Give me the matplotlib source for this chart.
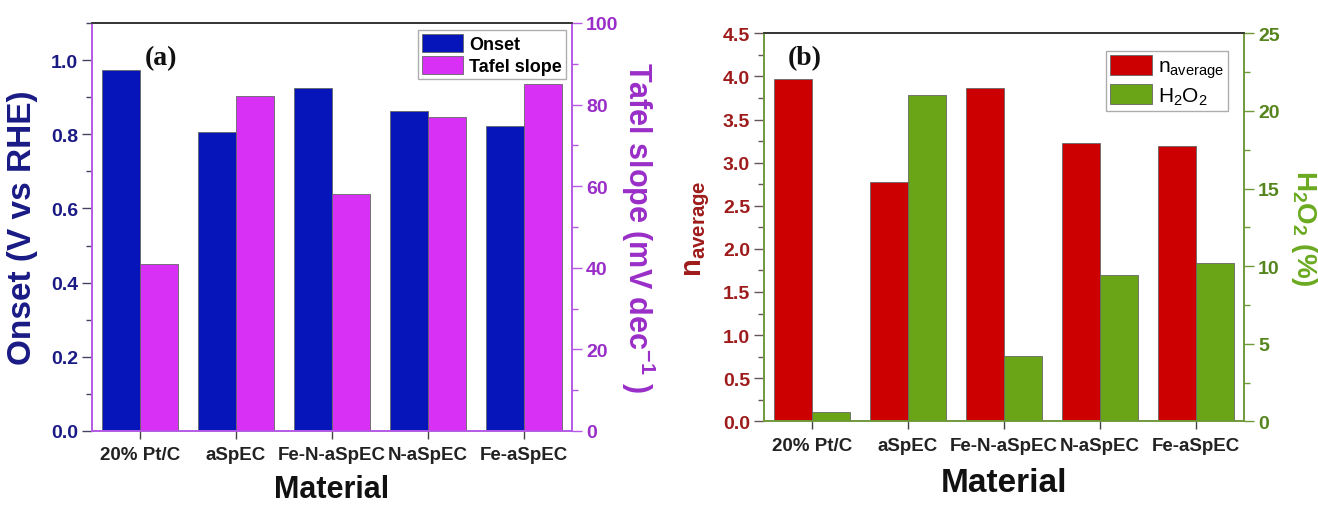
import numpy as np
import matplotlib
matplotlib.use("Agg")
import matplotlib.pyplot as plt
from matplotlib.ticker import AutoMinorLocator, MultipleLocator

# ── data ─────────────────────────────────────────────────────────────────────
materials = ["20% Pt/C", "aSpEC", "Fe-N-aSpEC", "N-aSpEC", "Fe-aSpEC"]
onset = [0.973, 0.805, 0.926, 0.862, 0.822]          # V vs RHE
tafel = [41.0, 82.0, 58.0, 77.0, 85.0]               # mV dec-1
n_avg = [3.97, 2.77, 3.87, 3.23, 3.19]
h2o2 = [0.6, 21.0, 4.2, 9.4, 10.2]                   # %

# ── palette ───────────────────────────────────────────────────────────────────
BLUE = "#0515BA"
MAGENTA = "#D930F5"
RED = "#CC0000"
GREEN = "#69A516"
NAVY = "#1A1A85"
PURPLE = "#9A2EC8"
PURPLE_SP = "#B45AE6"
DRED = "#9E1B1B"
OLIVE = "#55851C"
GREEN_SP = "#6E9A3A"
TOP = "#333333"
EDGE = "#666666"

plt.rcParams["font.family"] = ["Liberation Sans", "DejaVu Sans"]
plt.rcParams["font.weight"] = "bold"
plt.rcParams["mathtext.default"] = "regular"

x = np.arange(len(materials))
W = 0.4

fig = plt.figure(figsize=(13.18, 5.06), dpi=100, facecolor="white")
ax_a = fig.add_axes([92 / 1318, 1 - 432 / 506, 480 / 1318, 408 / 506])
ax_b = fig.add_axes([764 / 1318, 1 - 422.3 / 506, 480 / 1318, 388 / 506])


def style_pair(ax, ax2, lcol, lspine, ltick, rcol, rspine, bspine):
    ax.set_xlim(-0.5, len(materials) - 0.5)
    ax.set_xticks(x)
    ax.set_xticklabels(materials, fontsize=13.5, fontweight="bold", color="#222222")
    ax.tick_params(axis="x", direction="out", length=6, width=1, color="#444444", pad=5)
    ax.tick_params(axis="y", which="major", direction="out", length=7, width=1,
                   color=ltick, labelcolor=lcol, labelsize=14, pad=3)
    ax.tick_params(axis="y", which="minor", direction="out", length=4, width=1, color=ltick)
    ax2.tick_params(axis="y", which="major", direction="out", length=7, width=1,
                    color=rspine, labelcolor=rcol, labelsize=14, pad=3)
    ax2.tick_params(axis="y", which="minor", direction="out", length=4, width=1, color=rspine)
    ax.yaxis.set_minor_locator(AutoMinorLocator(2))
    ax2.yaxis.set_minor_locator(AutoMinorLocator(2))
    for a in (ax, ax2):
        a.spines["left"].set_color(lspine)
        a.spines["bottom"].set_color(bspine)
        a.spines["right"].set_color(rspine)
        a.spines["top"].set_color(TOP)
        for s in a.spines.values():
            s.set_linewidth(1.2)
    for lab in ax.get_yticklabels() + ax2.get_yticklabels():
        lab.set_fontweight("bold")


# ── panel (a) ────────────────────────────────────────────────────────────────
ax_a2 = ax_a.twinx()
b1 = ax_a.bar(x - W / 2, onset, W, color=BLUE, edgecolor=EDGE, linewidth=0.6)
b2 = ax_a2.bar(x + W / 2, tafel, W, color=MAGENTA, edgecolor=EDGE, linewidth=0.6)
ax_a.set_ylim(0, 1.1)
ax_a.yaxis.set_major_locator(MultipleLocator(0.2))
ax_a2.set_ylim(0, 100)
ax_a2.yaxis.set_major_locator(MultipleLocator(20))
style_pair(ax_a, ax_a2, NAVY, PURPLE_SP, "#444466", PURPLE, PURPLE_SP, PURPLE_SP)
ax_a.set_ylabel("Onset (V vs RHE)", fontsize=24, fontweight="bold", color=NAVY, labelpad=9)
ax_a2.set_ylabel(r"Tafel slope (mV dec$^{\mathregular{-1}}$ )", fontsize=22, fontweight="bold",
                 color=PURPLE, rotation=270, labelpad=28)
ax_a.set_xlabel("Material", fontsize=22, fontweight="bold", color="#111111", labelpad=8)
ax_a.text(0.11, 0.945, "(a)", transform=ax_a.transAxes, fontsize=20, fontweight="bold",
          family="Liberation Serif", va="top", ha="left", color="#111111")
leg = ax_a2.legend([b1, b2], ["Onset", "Tafel slope"], loc="upper right",
                   bbox_to_anchor=(0.987, 0.983), borderaxespad=0,
                   prop={"weight": "bold", "size": 13}, frameon=True, fancybox=False,
                   edgecolor="#999999", handlelength=2.3, handleheight=1.2,
                   labelspacing=0.15, borderpad=0.2, handletextpad=0.35)
leg.get_frame().set_linewidth(1.0)

# ── panel (b) ────────────────────────────────────────────────────────────────
ax_b2 = ax_b.twinx()
c1 = ax_b.bar(x - W / 2, n_avg, W, color=RED, edgecolor=EDGE, linewidth=0.6)
c2 = ax_b2.bar(x + W / 2, h2o2, W, color=GREEN, edgecolor=EDGE, linewidth=0.6)
ax_b.set_ylim(0, 4.5)
ax_b.yaxis.set_major_locator(MultipleLocator(0.5))
ax_b2.set_ylim(0, 25)
ax_b2.yaxis.set_major_locator(MultipleLocator(5))
style_pair(ax_b, ax_b2, DRED, GREEN_SP, "#665555", OLIVE, GREEN_SP, GREEN_SP)
ax_b.set_ylabel(r"n$_{\mathregular{average}}$", fontsize=21, fontweight="bold", color=DRED, labelpad=8)
ax_b2.set_ylabel(r"H$_{\mathregular{2}}$O$_{\mathregular{2}}$ (%)", fontsize=20, fontweight="bold",
                 color="#6AAA20", rotation=270, labelpad=28)
ax_b.set_xlabel("Material", fontsize=24, fontweight="bold", color="#111111", labelpad=10)
ax_b.text(0.05, 0.97, "(b)", transform=ax_b.transAxes, fontsize=20, fontweight="bold",
          family="Liberation Serif", va="top", ha="left", color="#111111")
leg = ax_b2.legend([c1, c2], [r"n$_{\mathregular{average}}$", r"H$_{\mathregular{2}}$O$_{\mathregular{2}}$"],
                   loc="upper right", bbox_to_anchor=(0.967, 0.955), borderaxespad=0,
                   prop={"weight": "normal", "size": 15}, frameon=True, fancybox=False,
                   edgecolor="#999999", handlelength=2.0, handleheight=1.1,
                   labelspacing=0.2, borderpad=0.2, handletextpad=0.3)
leg.get_frame().set_linewidth(1.0)

plt.savefig("out.png", dpi=100, facecolor="white")
